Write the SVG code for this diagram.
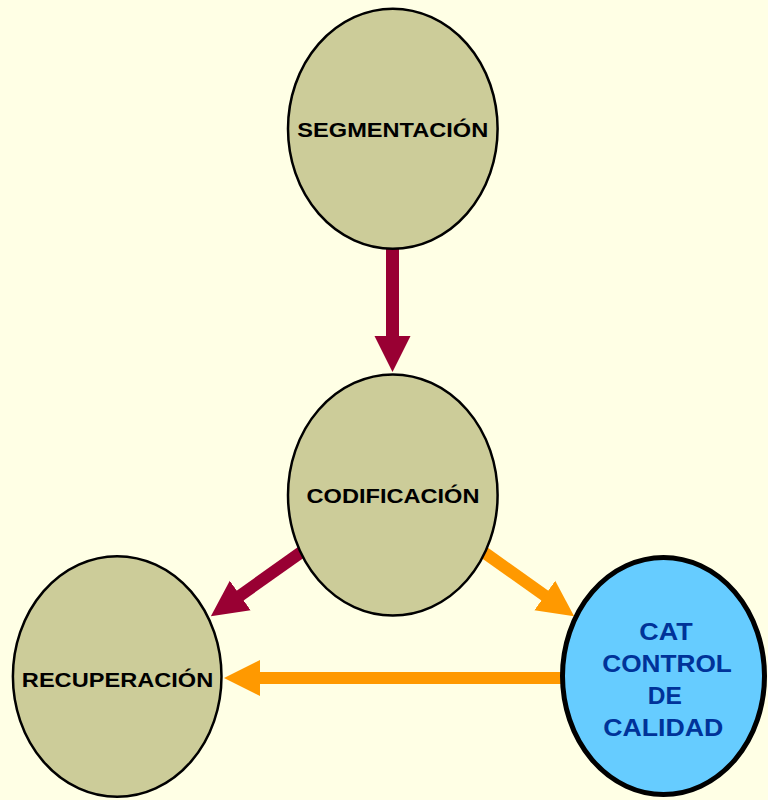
<svg xmlns="http://www.w3.org/2000/svg" width="768" height="800" viewBox="0 0 768 800">
<style>
.node{fill:#CCCC99;stroke:#000;stroke-width:2.5}
.cat{fill:#66CCFF;stroke:#000;stroke-width:5}
.lbl{font-family:"Liberation Sans",Arial,sans-serif;font-weight:bold;font-size:20px;fill:#000;text-anchor:middle}
.catlbl{font-family:"Liberation Sans",Arial,sans-serif;font-weight:bold;font-size:24.5px;fill:#003399;text-anchor:middle}
.m{stroke:#990033;fill:none}
.o{stroke:#FF9900;fill:none}
</style>
<defs>
<marker id="hm" markerUnits="userSpaceOnUse" orient="auto" markerWidth="37" markerHeight="37" refX="1" refY="18" viewBox="0 0 37 36"><path d="M0,0 L36,18 L0,36 Z" fill="#990033"/></marker>
<marker id="ho" markerUnits="userSpaceOnUse" orient="auto" markerWidth="37" markerHeight="37" refX="1" refY="18" viewBox="0 0 37 36"><path d="M0,0 L36,18 L0,36 Z" fill="#FF9900"/></marker>
</defs>
<rect width="768" height="800" fill="#FFFFE5"/>
<g id="connectors">
<line class="m" x1="392.5" y1="245" x2="392.5" y2="337" stroke-width="13" marker-end="url(#hm)"/>
<line class="m" x1="305" y1="549.5" x2="239.4" y2="596.1" stroke-width="12" marker-end="url(#hm)"/>
<line class="o" x1="480" y1="549.5" x2="545.6" y2="596.1" stroke-width="12" marker-end="url(#ho)"/>
<line class="o" x1="565" y1="678" x2="259" y2="678" stroke-width="12" marker-end="url(#ho)"/>
</g>
<g id="segmentacion">
<ellipse class="node" cx="392.8" cy="128.7" rx="104.8" ry="120"/>
<text class="lbl" transform="translate(392.8 137.3) scale(1.18 1)">SEGMENTACIÓN</text>
</g>
<g id="codificacion">
<ellipse class="node" cx="392.8" cy="495" rx="104.8" ry="120.5"/>
<text class="lbl" transform="translate(393 503.3) scale(1.18 1)">CODIFICACIÓN</text>
</g>
<g id="recuperacion">
<ellipse class="node" cx="117.2" cy="676.5" rx="104.3" ry="120.3"/>
<text class="lbl" transform="translate(117.5 686.7) scale(1.18 1)">RECUPERACIÓN</text>
</g>
<g id="cat">
<ellipse class="cat" cx="663.5" cy="676" rx="101" ry="118.5"/>
<text class="catlbl" transform="translate(666 640) scale(1.1 1)">CAT</text>
<text class="catlbl" transform="translate(667 672.3) scale(1.07 1)">CONTROL</text>
<text class="catlbl" transform="translate(664.7 704.3) scale(1.0 1)">DE</text>
<text class="catlbl" transform="translate(663.3 735.7) scale(1.09 1)">CALIDAD</text>
</g>
</svg>
